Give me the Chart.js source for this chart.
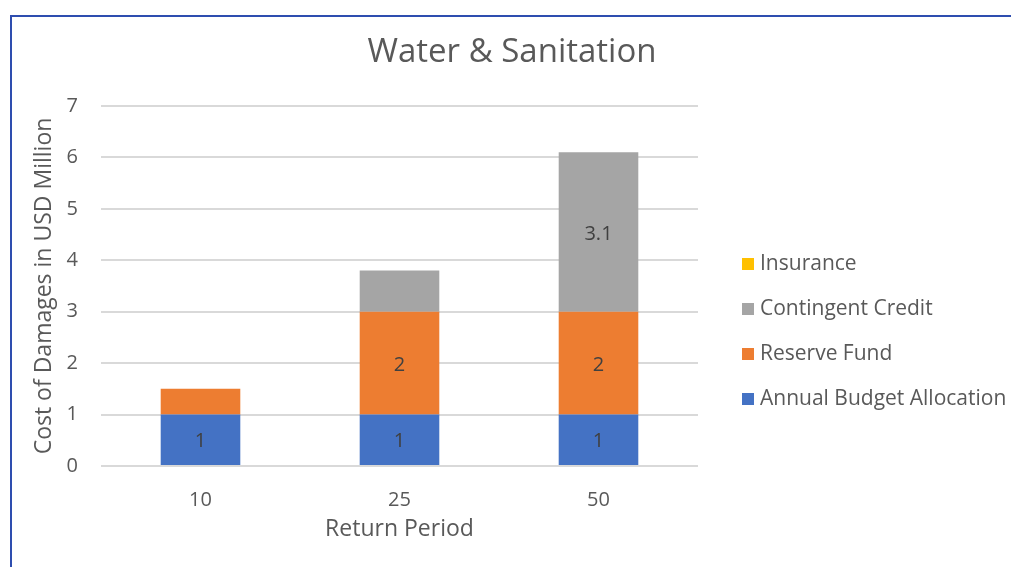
<!DOCTYPE html>
<html>
<head>
<meta charset="utf-8">
<title>Water &amp; Sanitation</title>
<script src="https://cdn.jsdelivr.net/npm/chart.js@4/dist/chart.umd.min.js"></script>
<style>
  html, body { margin: 0; padding: 0; background: #ffffff; }
  #wrap { position: relative; width: 1011px; height: 567px; }
</style>
</head>
<body>
<div id="wrap"><canvas id="chart"></canvas></div>
<script>
// Return periods (years) and financing layers, in USD million
const returnPeriods = ['10', '25', '50'];
const annualBudget = [1, 1, 1];
const reserveFund = [0.5, 2, 2];
const contingentCredit = [0, 0.8, 3.1];
const insurance = [0, 0, 0];
const yTickValues = [0, 1, 2, 3, 4, 5, 6, 7];

const FONT = '"Open Sans", "Liberation Sans", sans-serif';
const TEXT = '#595959';

// Thin blue frame along the top and left edges
const framePlugin = {
  id: 'frame',
  beforeDraw(chart) {
    const ctx = chart.ctx;
    ctx.save();
    ctx.fillStyle = '#ffffff';
    ctx.fillRect(0, 0, chart.width, chart.height);
    ctx.strokeStyle = '#2E4DAF';
    ctx.lineWidth = 2;
    ctx.beginPath();
    ctx.moveTo(chart.width, 16);
    ctx.lineTo(11, 16);
    ctx.lineTo(11, chart.height);
    ctx.stroke();
    ctx.restore();
  }
};

// Value labels centred in each segment of at least one million
const segmentLabels = {
  id: 'segmentLabels',
  afterDatasetsDraw(chart) {
    const ctx = chart.ctx;
    ctx.save();
    ctx.font = '20px ' + FONT;
    ctx.fillStyle = '#404040';
    ctx.textAlign = 'center';
    ctx.textBaseline = 'middle';
    chart.data.datasets.forEach((ds, i) => {
      const meta = chart.getDatasetMeta(i);
      if (meta.hidden) return;
      meta.data.forEach((bar, j) => {
        const v = ds.data[j];
        if (v < 1) return;
        const p = bar.getProps(['x', 'y', 'base'], true);
        ctx.fillText(String(v), p.x, (p.y + p.base) / 2 + 2);
      });
    });
    ctx.restore();
  }
};

// Legend to the right of the plot, top layer listed first
const sideLegend = {
  id: 'sideLegend',
  afterDraw(chart) {
    const ctx = chart.ctx;
    const area = chart.chartArea;
    const x0 = area.right + 44;
    const y0 = area.top + 158;
    const step = 45;
    ctx.save();
    ctx.font = '21px ' + FONT;
    ctx.textBaseline = 'middle';
    ctx.textAlign = 'left';
    const items = chart.data.datasets.slice().reverse();
    items.forEach((ds, k) => {
      const y = y0 + k * step;
      ctx.fillStyle = ds.backgroundColor;
      ctx.fillRect(x0, y - 6, 12, 12);
      ctx.fillStyle = TEXT;
      ctx.fillText(ds.label, x0 + 18, y);
    });
    ctx.restore();
  }
};

new Chart(document.getElementById('chart'), {
  type: 'bar',
  data: {
    labels: returnPeriods,
    datasets: [
      { label: 'Annual Budget Allocation', data: annualBudget, backgroundColor: '#4472C4', yAxisID: 'y' },
      { label: 'Reserve Fund', data: reserveFund, backgroundColor: '#ED7D31', yAxisID: 'y' },
      { label: 'Contingent Credit', data: contingentCredit, backgroundColor: '#A5A5A5', yAxisID: 'y' },
      { label: 'Insurance', data: insurance, backgroundColor: '#FFC000', yAxisID: 'y' }
    ]
  },
  options: {
    responsive: true,
    maintainAspectRatio: false,
    animation: false,
    layout: { padding: { left: 13, right: 0, top: 0, bottom: 0 } },
    datasets: {
      bar: { categoryPercentage: 1, barPercentage: 0.4, borderWidth: 0 }
    },
    plugins: {
      legend: { display: false },
      tooltip: { enabled: false },
      title: {
        display: true,
        text: 'Water & Sanitation',
        color: TEXT,
        font: { family: FONT, size: 33, weight: 'normal' },
        padding: { top: 33.2, bottom: 33.2 }
      }
    },
    scales: {
      x: {
        stacked: true,
        grid: { display: false },
        border: { display: false },
        ticks: { color: TEXT, font: { family: FONT, size: 20 }, padding: 14 },
        title: {
          display: true,
          text: 'Return Period',
          color: TEXT,
          font: { family: FONT, size: 23 },
          padding: { top: 0, bottom: 24 }
        },
        afterFit(scale) { scale.height = 101; }
      },
      y: {
        stacked: true,
        min: 0,
        max: 7,
        afterBuildTicks(scale) { scale.ticks = yTickValues.map(v => ({ value: v })); },
        grid: { color: '#D9D9D9', lineWidth: 2, drawTicks: false },
        border: { display: false },
        ticks: { color: TEXT, font: { family: FONT, size: 20 }, padding: 23 },
        title: {
          display: true,
          text: 'Cost of Damages in USD Million',
          color: TEXT,
          font: { family: FONT, size: 23 },
          padding: { top: 18, bottom: 0 }
        },
        afterFit(scale) { scale.width = 88; }
      },
      legendSpace: {
        type: 'linear',
        position: 'right',
        display: true,
        grid: { display: false },
        border: { display: false },
        ticks: { display: false },
        afterFit(scale) { scale.width = 313; }
      }
    }
  },
  plugins: [framePlugin, segmentLabels, sideLegend]
});
</script>
</body>
</html>
